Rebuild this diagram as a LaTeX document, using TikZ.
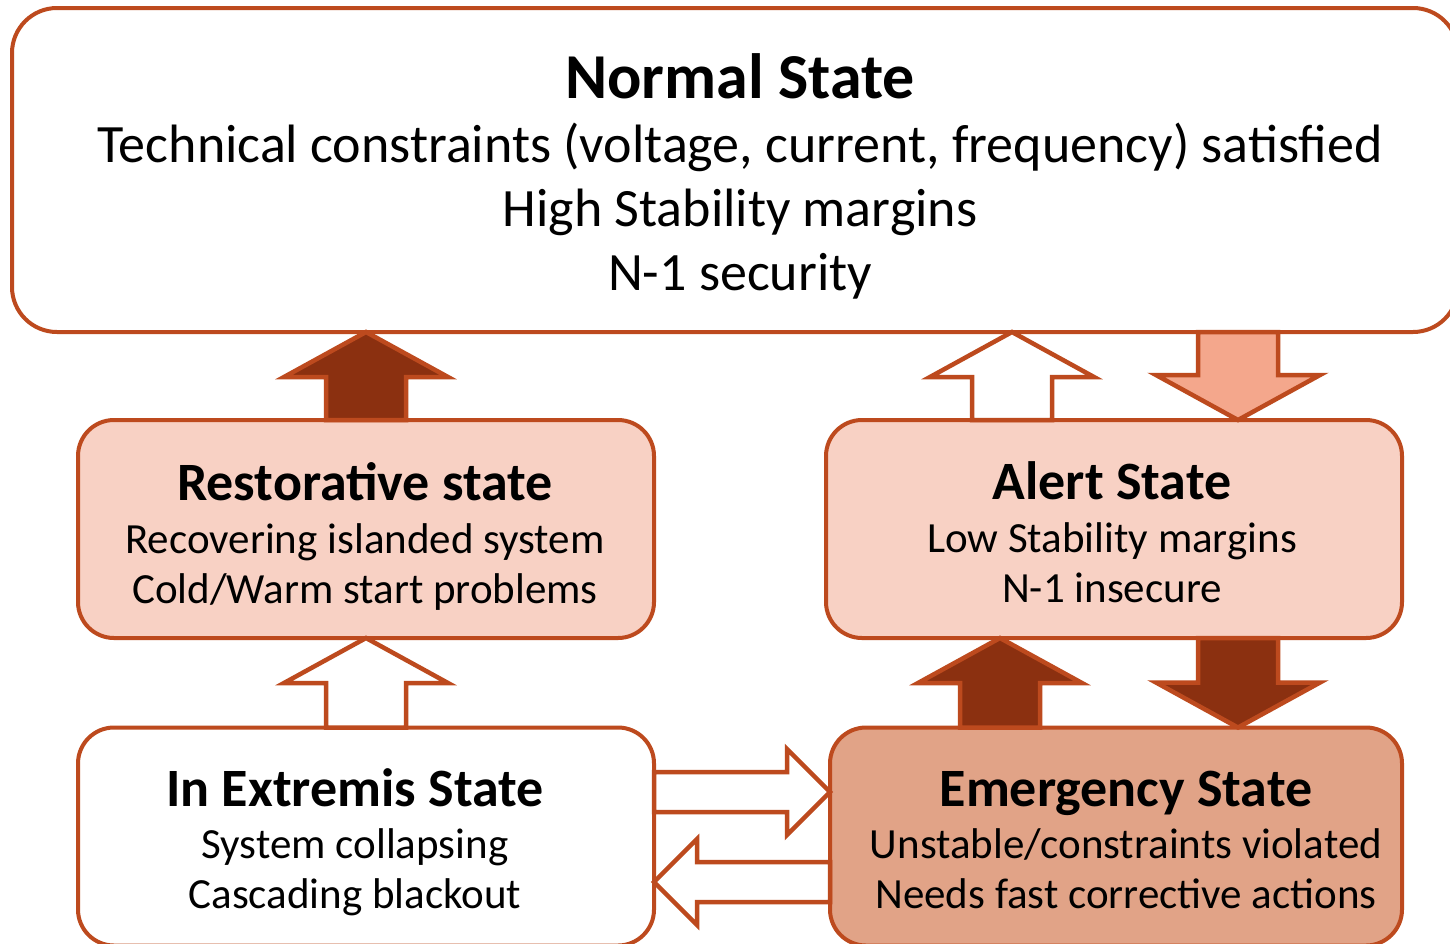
\documentclass[tikz,border=0pt]{standalone}
\usepackage{fontspec}
\setmainfont{Carlito}
\usetikzlibrary{calc}
\definecolor{edge}{HTML}{BD4A1E}
\definecolor{lightfill}{HTML}{F8D1C4}
\definecolor{emerfill}{HTML}{E1A387}
\definecolor{darkarrow}{HTML}{8B3010}
\definecolor{softarrow}{HTML}{F4A78C}
\newcommand\vblock[4]{%
  \draw[blockarrow,#1] let \p1=(#3), \p2=(#4), \n1={sign(\y2-\y1)} in
   ({(#2-40)*1pt},\y1) -- ({(#2-40)*1pt},{\y2-\n1*45pt}) -- ({(#2-82)*1pt},{\y2-\n1*45pt}) --
   ({#2*1pt},\y2) -- ({(#2+82)*1pt},{\y2-\n1*45pt}) -- ({(#2+40)*1pt},{\y2-\n1*45pt}) --
   ({(#2+40)*1pt},\y1) -- cycle;}
\newcommand\hblock[4]{%
  \draw[blockarrow,#1] let \p1=(#3), \p2=(#4), \n1={sign(\x2-\x1)} in
   (\x1,{-(#2-20)*1pt}) -- ({\x2-\n1*43pt},{-(#2-20)*1pt}) -- ({\x2-\n1*43pt},{-(#2-43)*1pt}) --
   (\x2,{-#2*1pt}) -- ({\x2-\n1*43pt},{-(#2+43)*1pt}) -- ({\x2-\n1*43pt},{-(#2+20)*1pt}) --
   (\x1,{-(#2+20)*1pt}) -- cycle;}
\begin{document}
\begin{tikzpicture}[x=1pt,y=-1pt,
  box/.style={draw=edge,line width=4pt,inner sep=0pt,outer sep=0pt},
  upperbox/.style={box,fill=white,rounded corners=45pt,minimum width=1446pt,minimum height=324pt},
  lowerbox/.style={box,rounded corners=36pt,minimum height=218pt},
  blockarrow/.style={draw=edge,line width=4.5pt,line join=miter},
  bigtitle/.style={anchor=base,inner sep=0pt,font=\fontsize{64}{77}\selectfont\bfseries},
  bigline/.style={anchor=base,inner sep=0pt,font=\fontsize{54}{65}\selectfont},
  title/.style={anchor=base,inner sep=0pt,font=\fontsize{54}{65}\selectfont\bfseries},
  line/.style={anchor=base,inner sep=0pt,font=\fontsize{43}{52}\selectfont}]
\useasboundingbox (0,0) rectangle (1450,943);
\clip (0,0) rectangle (1450,943);
\fill[white] (0,0) rectangle (1450,943);
% boxes
\node[upperbox] (normal) at (735,170) {};
\node[lowerbox,fill=lightfill,minimum width=576pt] (rest) at (366,529) {};
\node[lowerbox,fill=lightfill,minimum width=576pt] (alert) at (1114,529) {};
\node[lowerbox,fill=white,minimum width=576pt] (extr) at (366,836.5) {};
\node[lowerbox,fill=emerfill,minimum width=572pt] (emer) at (1116,836.5) {};
% texts
\node[bigtitle] (nt) at (740,98) {Normal State};
\node[bigline] (n1) at (740,162) {Technical constraints (voltage, current, frequency) satisfied};
\node[bigline] (n2) at (740,226) {High Stability margins};
\node[bigline] (n3) at (740,290) {N-1 security};
\node[title] (rt) at (365,500) {Restorative state};
\node[line] (r1) at (365,553) {Recovering islanded system};
\node[line] (r2) at (365,603) {Cold/Warm start problems};
\node[title] (at) at (1112,499) {Alert State};
\node[line] (a1) at (1112,552) {Low Stability margins};
\node[line] (a2) at (1112,602) {N-1 insecure};
\node[title] (et) at (355,806) {In Extremis State};
\node[line] (e1) at (355,858) {System collapsing};
\node[line] (e2) at (355,908) {Cascading blackout};
\node[title] (mt) at (1126,806) {Emergency State};
\node[line] (m1) at (1126,858) {Unstable/constraints violated};
\node[line] (m2) at (1126,908) {Needs fast corrective actions};
% block arrows
\vblock{fill=darkarrow}{366}{rest.north}{normal.south}
\vblock{fill=white}{1012}{alert.north}{normal.south}
\vblock{fill=softarrow}{1238}{normal.south}{alert.north}
\vblock{fill=white}{366}{extr.north}{rest.south}
\vblock{fill=darkarrow}{1000}{emer.north}{alert.south}
\vblock{fill=darkarrow}{1238}{alert.south}{emer.north}
\hblock{fill=white}{792}{extr.east}{emer.west}
\hblock{fill=white}{882}{emer.west}{extr.east}
\end{tikzpicture}
\end{document}
